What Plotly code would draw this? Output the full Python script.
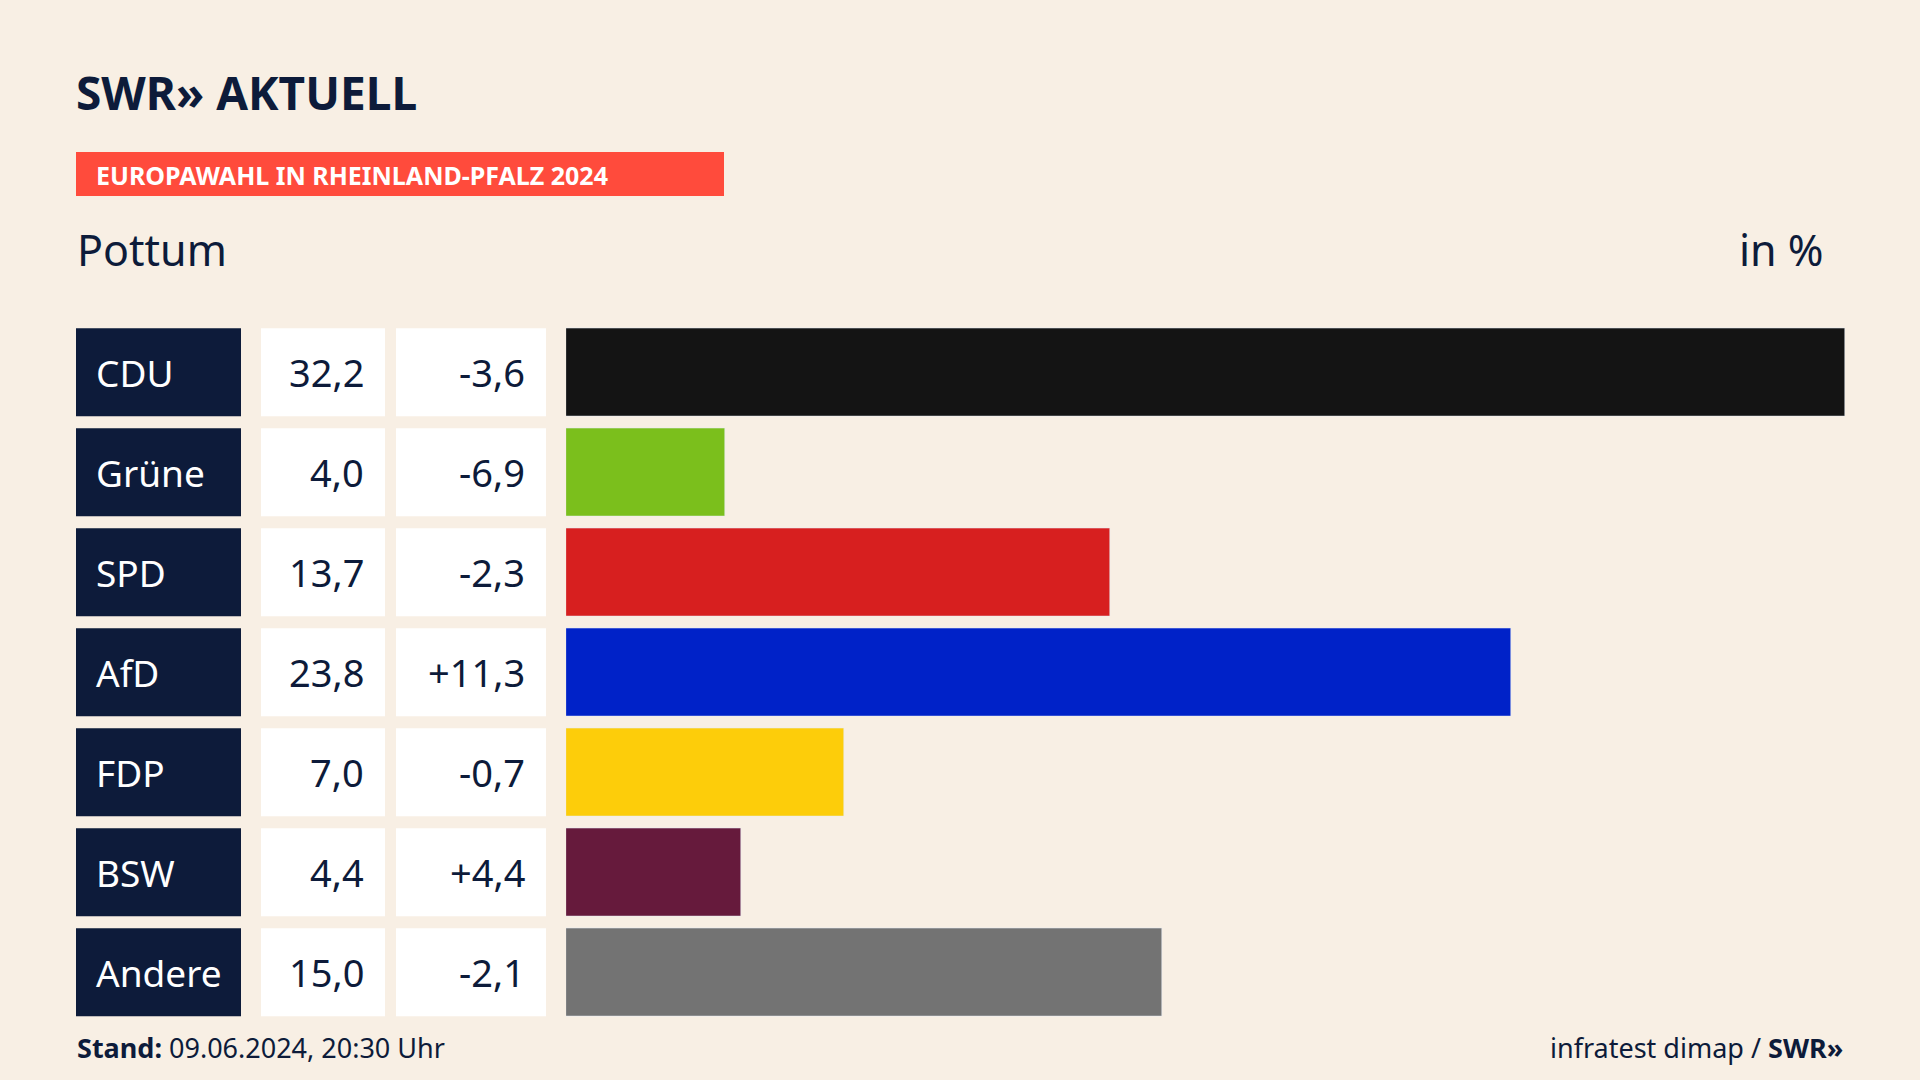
import plotly.graph_objects as go

parties = ["CDU", "Grüne", "SPD", "AfD", "FDP", "BSW", "Andere"]
values = [32.2, 4.0, 13.7, 23.8, 7.0, 4.4, 15.0]
diffs = ["-3,6", "-6,9", "-2,3", "+11,3", "-0,7", "+4,4", "-2,1"]
colors = ["#141414", "#7bbf1c", "#d71f1f", "#0022c8", "#fdcd0a", "#661a3c", "#737373"]

W, H = 1920, 1080
def px(x): return x / W
def py(y): return 1 - y / H

slot = 100.0
top = 372.3 - slot / 2
bot = top + 7 * slot
fig = go.Figure(go.Bar(
    x=values, y=list(range(7)), orientation="h", marker_color=colors,
    width=0.88, hoverinfo="skip"))

shapes, ann = [], []
font = "Noto Sans"
for i, p in enumerate(parties):
    yc = top + slot * (i + 0.5)
    y0, y1 = yc - 44, yc + 44
    shapes.append(dict(type="rect", xref="paper", yref="paper", x0=px(76), x1=px(241),
                       y0=py(y1), y1=py(y0), fillcolor="#0d1b3a", line_width=0, layer="below"))
    for a, b in [(261, 385), (396, 546)]:
        shapes.append(dict(type="rect", xref="paper", yref="paper", x0=px(a), x1=px(b),
                           y0=py(y1), y1=py(y0), fillcolor="#ffffff", line_width=0, layer="below"))
    ann.append(dict(text=p, x=px(94), y=py(yc), xanchor="left", yanchor="middle",
                    font=dict(family=font, size=37, color="white")))
    ann.append(dict(text=f"{values[i]:.1f}".replace(".", ","), x=px(366), y=py(yc),
                    xanchor="right", yanchor="middle", font=dict(family=font, size=38, color="#0d1b3a")))
    ann.append(dict(text=diffs[i], x=px(527), y=py(yc), xanchor="right", yanchor="middle",
                    font=dict(family=font, size=38, color="#0d1b3a")))

shapes.append(dict(type="rect", xref="paper", yref="paper", x0=px(76), x1=px(724),
                   y0=py(196), y1=py(152), fillcolor="#ff4b3c", line_width=0, layer="below"))
ann += [
    dict(text="<b>SWR» AKTUELL</b>", x=px(74), y=py(92), xanchor="left", yanchor="middle",
         font=dict(family=font, size=46, color="#0d1b3a")),
    dict(text="<b>EUROPAWAHL IN RHEINLAND-PFALZ 2024</b>", x=px(94), y=py(175), xanchor="left",
         yanchor="middle", font=dict(family=font, size=25, color="white")),
    dict(text="Pottum", x=px(75), y=py(249), xanchor="left", yanchor="middle",
         font=dict(family=font, size=43, color="#0d1b3a")),
    dict(text="in %", x=px(1826), y=py(249), xanchor="right", yanchor="middle",
         font=dict(family=font, size=43, color="#0d1b3a")),
    dict(text="<b>Stand:</b> 09.06.2024, 20:30 Uhr", x=px(75), y=py(1047), xanchor="left",
         yanchor="middle", font=dict(family=font, size=27, color="#0d1b3a")),
    dict(text="infratest dimap / <b>SWR»</b>", x=px(1845), y=py(1047), xanchor="right",
         yanchor="middle", font=dict(family=font, size=27, color="#0d1b3a")),
]
for a in ann:
    a.update(xref="paper", yref="paper", showarrow=False)

fig.update_layout(
    width=W, height=H, margin=dict(l=0, r=0, t=0, b=0),
    paper_bgcolor="#f8efe4", plot_bgcolor="rgba(0,0,0,0)", showlegend=False,
    xaxis=dict(domain=[px(566), px(1845)], range=[0, 32.2], visible=False, fixedrange=True),
    yaxis=dict(domain=[py(bot), py(top)], range=[6.5, -0.5], visible=False, fixedrange=True),
    shapes=shapes, annotations=ann, bargap=0)
fig.write_html("out.html", config={"displayModeBar": False},
               post_script="document.body.style.margin='0';document.body.style.background='#f8efe4';")
